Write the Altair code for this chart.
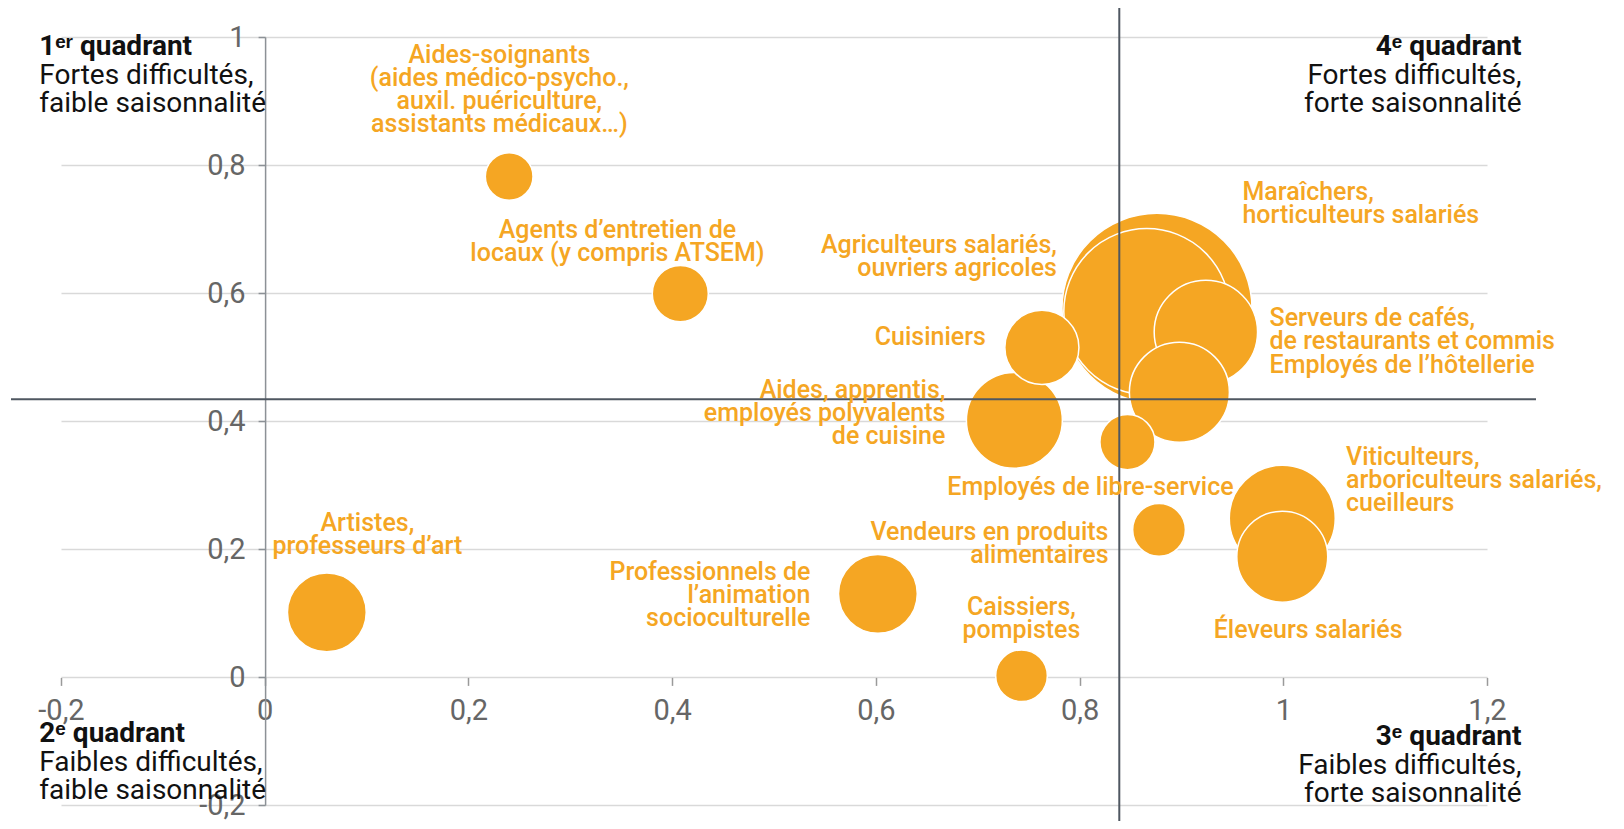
import altair as alt
import pandas as pd

# ---- data ----
metiers = [
    "Maraîchers, horticulteurs salariés",
    "Agriculteurs salariés, ouvriers agricoles",
    "Viticulteurs, arboriculteurs salariés, cueilleurs",
    "Serveurs de cafés, de restaurants et commis",
    "Employés de l’hôtellerie",
    "Aides, apprentis, employés polyvalents de cuisine",
    "Éleveurs salariés",
    "Artistes, professeurs d’art",
    "Professionnels de l’animation socioculturelle",
    "Cuisiniers",
    "Agents d’entretien de locaux (y compris ATSEM)",
    "Employés de libre-service",
    "Vendeurs en produits alimentaires",
    "Caissiers, pompistes",
    "Aides-soignants",
]
saisonnalite = [0.876, 0.866, 0.999, 0.924, 0.898, 0.736, 0.999, 0.061, 0.602, 0.763, 0.408, 0.847, 0.878, 0.743, 0.240]
difficultes = [0.576, 0.571, 0.248, 0.539, 0.445, 0.401, 0.188, 0.101, 0.130, 0.515, 0.599, 0.367, 0.230, 0.002, 0.782]
projets = [100, 76.3, 31.1, 29.6, 27.7, 25.5, 22.9, 17.2, 17.2, 15.2, 8.7, 8.4, 7.7, 7.4, 6.3]

seuil_saisonnalite = [0.839]
seuil_difficultes = [0.434]

x_ticks = [-0.2, 0, 0.2, 0.4, 0.6, 0.8, 1, 1.2]
y_ticks = [-0.2, 0, 0.2, 0.4, 0.6, 0.8, 1]

# bubble labels
label_texts = [
    "Aides-soignants\n(aides médico-psycho.,\nauxil. puériculture,\nassistants médicaux…)",
    "Agents d’entretien de\nlocaux (y compris ATSEM)",
    "Artistes,\nprofesseurs d’art",
    "Professionnels de\nl’animation\nsocioculturelle",
    "Caissiers,\npompistes",
    "Vendeurs en produits\nalimentaires",
    "Employés de libre-service",
    "Aides, apprentis,\nemployés polyvalents\nde cuisine",
    "Cuisiniers",
    "Agriculteurs salariés,\nouvriers agricoles",
    "Maraîchers,\nhorticulteurs salariés",
    "Serveurs de cafés,\nde restaurants et commis",
    "Employés de l’hôtellerie",
    "Viticulteurs,\narboriculteurs salariés,\ncueilleurs",
    "Éleveurs salariés",
]
# label anchors (data units) and alignment
label_x = [0.2304, 0.3463, 0.1008, 0.5358, 0.7429, 0.8284, 0.8107, 0.6683, 0.7081, 0.7778, 0.9599, 0.9865, 0.9865, 1.0616, 1.0244]
label_y = [0.990, 0.7167, 0.2589, 0.1823, 0.1277, 0.2448, 0.3152, 0.4667, 0.5495, 0.6933, 0.7761, 0.5792, 0.5058, 0.362, 0.0917]
label_align = ["center", "center", "center", "right", "center", "right", "center", "right", "right", "right",
               "left", "left", "left", "left", "center"]

# quadrant annotations
quad_titles = ["1ᵉʳ quadrant", "2ᵉ quadrant", "3ᵉ quadrant", "4ᵉ quadrant"]
quad_bodies = [
    "Fortes difficultés,\nfaible saisonnalité",
    "Faibles difficultés,\nfaible saisonnalité",
    "Faibles difficultés,\nforte saisonnalité",
    "Fortes difficultés,\nforte saisonnalité",
]
quad_x = [-0.2213, -0.2213, 1.2339, 1.2339]
quad_y = [1.0058, -0.0677, -0.0723, 1.0058]
quad_align = ["left", "left", "right", "right"]

# ---- styles ----
ORANGE = "#F5A623"
FONT = "Roboto, Liberation Sans, DejaVu Sans"
W, H = 1426, 768
XDOM = [-0.2, 1.2]
YDOM = [-0.2, 1]

bubbles_df = pd.DataFrame({"metier": metiers, "x": saisonnalite, "y": difficultes, "projets": projets})
labels_df = pd.DataFrame({"label": label_texts, "lx": label_x, "ly": label_y, "align": label_align})
quad_df = pd.DataFrame({"title": quad_titles, "body": quad_bodies, "qx": quad_x, "qy": quad_y, "align": quad_align})
vline_df = pd.DataFrame({"sx": seuil_saisonnalite})
hline_df = pd.DataFrame({"sy": seuil_difficultes})

label_expr = "replace(toString(datum.value), '.', ',')"

xscale = alt.Scale(domain=XDOM, nice=False, zero=False)
yscale = alt.Scale(domain=YDOM, nice=False, zero=False)

x_axis = alt.Axis(
    values=x_ticks, labelExpr=label_expr, orient="bottom", offset=-127.6,
    grid=False, domain=False, ticks=True, tickColor="#9a9a9a", tickSize=8, tickWidth=1.5,
    labelPadding=11, labelFontSize=29, labelColor="#666666", labelFont=FONT,
    labelFlush=False, labelOverlap=False, title=None,
)
y_axis = alt.Axis(
    values=y_ticks, labelExpr=label_expr, orient="left", offset=-204.1,
    grid=True, gridColor="#d9d9d9", gridWidth=1.5,
    domain=True, domainColor="#8c9196", domainWidth=1.5,
    ticks=True, tickColor="#8c9196", tickSize=7, tickWidth=1.5,
    labelPadding=13, labelFontSize=29, labelColor="#666666", labelFont=FONT,
    labelFlush=False, labelOverlap=False, title=None,
)


def X(field):
    return alt.X(field, type="quantitative", scale=xscale, axis=x_axis, title=None)


def Y(field):
    return alt.Y(field, type="quantitative", scale=yscale, axis=y_axis, title=None)


bubbles = alt.Chart(bubbles_df).mark_circle(
    color=ORANGE, opacity=1, stroke="white", strokeWidth=1.5
).encode(
    x=X("x"),
    y=Y("y"),
    size=alt.Size("projets:Q", scale=alt.Scale(domain=[0, 100], range=[0, 36100], zero=True), legend=None),
    order=alt.Order("projets:Q", sort="descending"),
)

vline = alt.Chart(vline_df).mark_rule(color="#4f5761", strokeWidth=2).encode(
    x=X("sx"),
    y=alt.value(-32),
    y2=alt.value(792),
)
hline = alt.Chart(hline_df).mark_rule(color="#4f5761", strokeWidth=2).encode(
    y=Y("sy"),
    x=alt.value(-50),
    x2=alt.value(1475),
)


def label_layer(al):
    return alt.Chart(labels_df).transform_filter(
        alt.datum.align == al
    ).mark_text(
        align=al, baseline="top", font=FONT, fontSize=25, fontWeight=500, color=ORANGE,
        lineBreak="\n", lineHeight=23,
    ).encode(
        x=X("lx"),
        y=Y("ly"),
        text="label:N",
    )


def quad_layer(al):
    base = alt.Chart(quad_df).transform_filter(alt.datum.align == al)
    title = base.mark_text(
        align=al, baseline="top", font=FONT, fontSize=28, fontWeight="bold", color="#111111"
    ).encode(x=X("qx"), y=Y("qy"), text="title:N")
    body = base.mark_text(
        align=al, baseline="top", font=FONT, fontSize=28, color="#111111",
        lineBreak="\n", lineHeight=28, dy=29,
    ).encode(x=X("qx"), y=Y("qy"), text="body:N")
    return [title, body]


chart = alt.layer(
    bubbles, vline, hline,
    label_layer("left"), label_layer("center"), label_layer("right"),
    *quad_layer("left"), *quad_layer("right"),
).properties(
    width=W, height=H,
    background="white",
    autosize=alt.AutoSizeParams(type="none"),
    padding={"left": 53, "top": 29, "right": 129, "bottom": 16},
).configure_view(strokeWidth=0)

chart.save("out.html", embed_options={"renderer": "svg", "actions": False})
